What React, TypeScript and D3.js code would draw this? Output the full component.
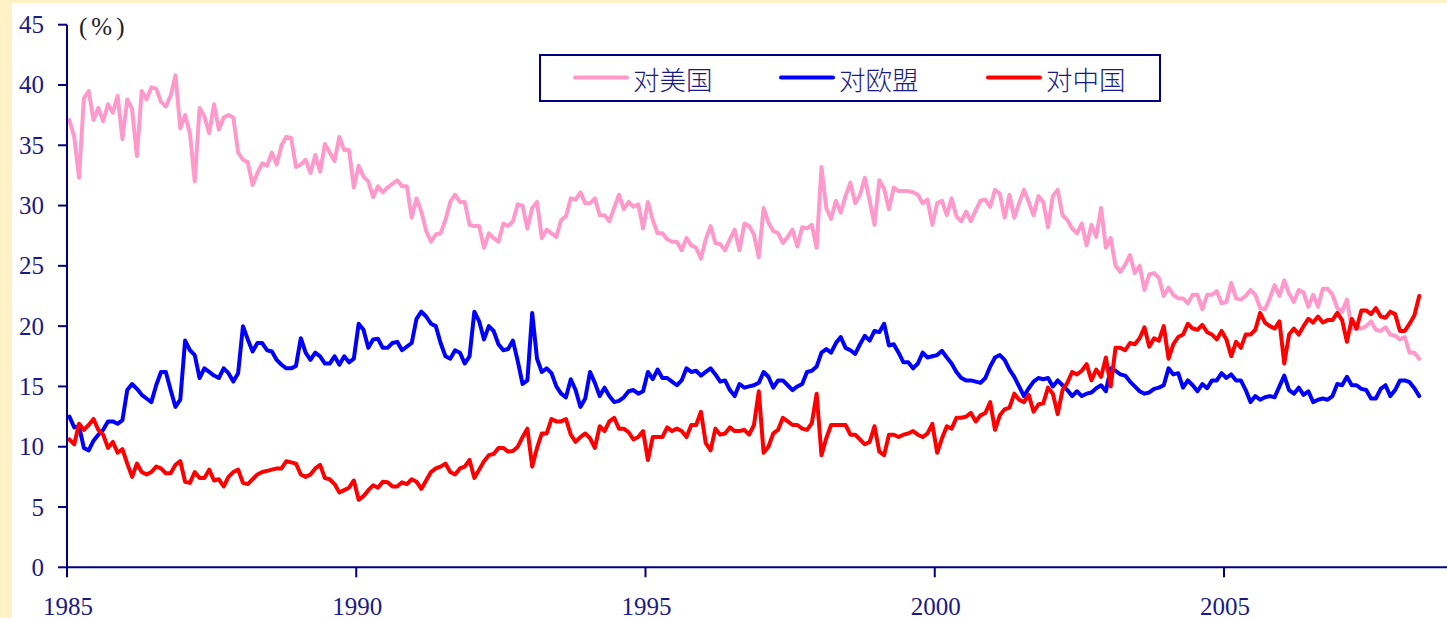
import React from "react";
import * as d3 from "d3";

// Monthly shares (%) starting Jan 1985
const seriesNames = ["对美国", "对欧盟", "对中国"];
const seriesColors = ["#FF99CC", "#0000FF", "#FF0000"];
const tickYears = [1985, 1990, 1995, 2000, 2005];
const yTicks = [0, 5, 10, 15, 20, 25, 30, 35, 40, 45];

const usShare = [
  37.1, 35.7, 32.3, 38.9, 39.5, 37.1, 38.1, 37.0, 38.4, 37.7,
  39.1, 35.5, 38.8, 38.0, 34.1, 39.5, 38.8, 39.8, 39.7, 38.6,
  38.2, 39.1, 40.8, 36.4, 37.5, 36.0, 32.0, 38.1, 37.4, 36.0,
  38.4, 36.3, 37.3, 37.5, 37.3, 34.4, 33.8, 33.6, 31.7, 32.7,
  33.5, 33.3, 34.4, 33.4, 35.0, 35.7, 35.6, 33.2, 33.4, 33.8,
  32.7, 34.2, 32.8, 35.1, 34.4, 33.7, 35.7, 34.6, 34.6, 31.5,
  33.3, 32.4, 32.0, 30.7, 31.6, 31.1, 31.5, 31.8, 32.1, 31.6,
  31.6, 29.0, 30.6, 29.5, 27.9, 27.0, 27.6, 27.7, 28.8, 30.3,
  30.9, 30.3, 30.3, 28.4, 28.3, 28.3, 26.5, 27.7, 27.3, 27.0,
  28.5, 28.3, 28.7, 30.1, 30.0, 28.1, 29.8, 30.3, 27.3, 28.0,
  27.7, 27.4, 28.8, 29.1, 30.6, 30.5, 31.1, 30.2, 30.2, 30.6,
  29.2, 29.2, 28.7, 29.8, 30.9, 29.7, 30.3, 29.9, 30.1, 28.1,
  30.3, 28.8, 27.7, 27.7, 27.2, 27.0, 27.0, 26.3, 27.3, 26.7,
  26.5, 25.6, 27.2, 28.3, 26.9, 26.8, 26.3, 27.2, 28.0, 26.3,
  28.5, 28.3, 27.6, 25.7, 29.8, 28.6, 27.9, 27.7, 26.9, 27.4,
  28.0, 26.6, 28.2, 28.1, 28.4, 26.5, 33.2, 29.8, 28.9, 30.4,
  29.4, 30.8, 31.9, 30.2, 30.9, 32.3, 30.4, 28.4, 32.1, 31.4,
  29.7, 31.5, 31.2, 31.2, 31.2, 31.1, 30.9, 30.2, 30.5, 28.4,
  30.2, 30.4, 29.2, 30.6, 29.1, 28.7, 29.5, 28.7, 29.6, 30.4,
  30.5, 29.9, 31.3, 31.0, 29.0, 30.9, 29.0, 30.2, 31.3, 30.3,
  29.2, 30.8, 30.3, 28.2, 30.8, 31.3, 29.2, 28.8, 28.1, 27.7,
  28.5, 26.7, 28.4, 27.4, 29.8, 26.5, 27.3, 25.0, 24.5, 25.1,
  25.9, 24.4, 25.0, 23.0, 24.3, 24.4, 24.0, 22.5, 23.2, 22.6,
  22.3, 22.3, 21.9, 22.6, 22.6, 21.4, 22.6, 22.6, 22.9, 21.9,
  22.0, 23.6, 22.3, 22.2, 22.5, 23.0, 22.6, 21.5, 21.4, 22.3,
  23.4, 22.5, 23.8, 22.7, 22.0, 23.0, 22.8, 21.6, 22.6, 21.6,
  23.1, 23.1, 22.6, 21.5, 21.2, 22.2, 19.8, 19.8, 19.8, 20.0,
  20.4, 19.7, 19.6, 19.9, 19.3, 19.2, 18.9, 19.1, 17.8, 17.8, 17.3,
];

const euShare = [
  12.5, 11.6, 11.7, 9.9, 9.7, 10.5, 11.0, 11.4, 12.1, 12.1,
  11.9, 12.2, 14.7, 15.2, 14.8, 14.3, 14.0, 13.7, 15.1, 16.2,
  16.2, 14.7, 13.3, 13.9, 18.8, 18.0, 17.6, 15.7, 16.5, 16.2,
  15.9, 15.7, 16.5, 16.1, 15.4, 16.1, 20.0, 18.9, 17.9, 18.6,
  18.6, 18.0, 17.9, 17.2, 16.8, 16.5, 16.5, 16.7, 19.0, 17.8,
  17.2, 17.8, 17.5, 16.9, 16.9, 17.5, 16.8, 17.5, 17.0, 17.3,
  20.2, 19.7, 18.2, 18.9, 18.95, 18.2, 18.2, 18.6, 18.7, 18.0,
  18.3, 18.6, 20.6, 21.2, 20.8, 20.2, 20.0, 18.6, 17.5, 17.3,
  18.0, 17.8, 16.9, 17.5, 21.2, 20.4, 18.9, 20.0, 19.6, 18.5,
  18.0, 18.1, 18.8, 17.1, 15.2, 15.5, 21.1, 17.3, 16.2, 16.5,
  16.1, 15.0, 14.4, 14.1, 15.6, 14.7, 13.3, 14.0, 16.2, 15.3,
  14.2, 14.9, 14.2, 13.7, 13.8, 14.1, 14.6, 14.7, 14.4, 14.6,
  16.2, 15.6, 16.4, 15.7, 15.7, 15.4, 15.1, 15.5, 16.5, 16.2,
  16.3, 15.9, 16.2, 16.5, 16.0, 15.4, 15.5, 14.7, 14.2, 15.2,
  14.9, 15.0, 15.1, 15.3, 16.2, 15.8, 14.9, 15.5, 15.5, 15.1,
  14.7, 15.0, 15.2, 16.2, 16.3, 16.65, 17.8, 18.1, 17.8, 18.6,
  19.1, 18.2, 18.0, 17.7, 18.5, 19.2, 18.8, 19.6, 19.5, 20.2,
  18.4, 18.5, 17.8, 17.0, 17.0, 16.5, 16.9, 17.8, 17.4, 17.5,
  17.6, 17.95, 17.4, 16.9, 16.2, 15.7, 15.5, 15.5, 15.4, 15.3,
  15.7, 16.65, 17.4, 17.6, 17.2, 16.4, 15.8, 15.0, 14.2, 14.85,
  15.4, 15.7, 15.6, 15.7, 15.0, 15.5, 15.1, 14.7, 14.2, 14.6,
  14.2, 14.4, 14.5, 14.85, 15.1, 14.6, 16.5, 16.3, 16.0, 15.9,
  15.4, 15.0, 14.6, 14.4, 14.5, 14.8, 14.9, 15.1, 16.5, 16.0,
  16.1, 14.9, 15.5, 15.1, 14.6, 15.2, 14.85, 15.5, 15.5, 16.1,
  15.7, 16.0, 15.5, 15.5, 14.7, 13.7, 14.2, 13.9, 14.1, 14.2,
  14.1, 15.0, 15.9, 14.7, 14.4, 14.9, 14.3, 14.6, 13.7, 13.9,
  14.0, 13.9, 14.2, 15.2, 15.1, 15.8, 15.1, 15.1, 14.8, 14.7,
  14.0, 14.0, 14.8, 15.1, 14.2, 14.7, 15.5, 15.5, 15.35, 14.85, 14.2,
];

const cnShare = [
  10.6, 10.2, 11.9, 11.4, 11.8, 12.3, 11.4, 11.0, 9.9, 10.4,
  9.5, 9.8, 8.6, 7.5, 8.6, 7.9, 7.7, 7.9, 8.35, 8.2,
  7.8, 7.8, 8.5, 8.8, 7.1, 7.0, 7.9, 7.4, 7.4, 8.1,
  7.2, 7.3, 6.7, 7.5, 7.9, 8.1, 7.0, 6.9, 7.3, 7.7,
  7.9, 8.0, 8.1, 8.2, 8.2, 8.8, 8.7, 8.6, 7.7, 7.5,
  7.7, 8.2, 8.5, 7.4, 7.3, 6.9, 6.2, 6.4, 6.6, 7.2,
  5.6, 5.9, 6.4, 6.8, 6.6, 7.1, 7.05, 6.7, 6.7, 7.05,
  6.9, 7.3, 7.1, 6.5, 7.2, 7.9, 8.2, 8.35, 8.6, 7.9,
  7.7, 8.2, 8.35, 8.9, 7.4, 8.1, 8.8, 9.3, 9.4, 9.9,
  9.9, 9.6, 9.65, 10.0, 10.8, 11.5, 8.35, 9.9, 11.1, 11.1,
  12.3, 12.1, 12.1, 12.3, 11.0, 10.4, 10.8, 11.1, 10.7, 9.9,
  11.7, 11.3, 12.1, 12.4, 11.5, 11.5, 11.2, 10.6, 10.8, 11.3,
  8.9, 10.8, 10.8, 10.8, 11.6, 11.3, 11.5, 11.3, 10.8, 11.8,
  11.8, 12.9, 10.3, 9.7, 11.5, 11.0, 11.1, 11.6, 11.3, 11.3,
  11.4, 11.0, 11.8, 14.6, 9.5, 10.0, 11.1, 11.4, 12.4, 12.1,
  11.8, 11.8, 11.5, 11.4, 11.95, 14.4, 9.3, 10.7, 11.8, 11.8,
  11.8, 11.8, 11.0, 11.0, 10.6, 10.2, 10.4, 11.7, 9.6, 9.3,
  11.0, 11.0, 10.8, 11.0, 11.1, 11.3, 11.0, 10.8, 11.1, 11.9,
  9.5, 10.7, 11.7, 11.5, 12.4, 12.4, 12.5, 12.8, 12.1, 12.6,
  12.8, 13.7, 11.4, 12.6, 13.1, 13.25, 14.4, 13.9, 13.7, 14.3,
  12.9, 13.5, 13.6, 14.9, 14.4, 12.7, 14.7, 15.3, 16.2, 16.0,
  16.3, 16.85, 15.5, 16.4, 15.8, 17.4, 15.0, 18.2, 18.2, 18.0,
  18.6, 18.5, 19.0, 19.9, 18.3, 19.0, 18.8, 20.0, 17.3, 18.5,
  19.1, 19.3, 20.2, 19.8, 19.7, 20.1, 19.5, 19.3, 18.9, 19.6,
  18.9, 17.5, 18.7, 18.2, 19.3, 19.3, 19.7, 21.1, 20.3, 20.0,
  19.8, 20.4, 16.9, 19.3, 19.8, 19.3, 20.0, 20.6, 20.3, 20.8,
  20.3, 20.5, 20.5, 21.1, 20.5, 18.7, 20.6, 19.8, 21.3, 21.3,
  21.0, 21.5, 20.8, 20.7, 21.2, 21.0, 19.6, 19.6, 20.2, 20.9, 22.5,
];

const allSeries = [usShare, euShare, cnShare];

const W = 1447;
const H = 618;
const NAVY = "#000080";
const TEXT = "#1a1a86";
const SERIF = "'Liberation Serif', 'DejaVu Serif', serif";
const CJK = "'Noto Sans CJK SC', 'Noto Sans', sans-serif";

export default function App() {
  const x = d3.scaleLinear().domain([0, 240]).range([67, 1224]);
  const y = d3.scaleLinear().domain([0, 45]).range([567.3, 24.7]);
  const line = d3
    .line<number>()
    .x((_, i) => x(i + 0.5))
    .y((d) => y(d));

  const legendX = [575, 781, 988];

  return (
    <svg
      width={W}
      height={H}
      style={{ position: "absolute", left: 0, top: 0, display: "block" }}
    >
      <rect x={0} y={0} width={W} height={H} fill="#FFF2C6" />
      <rect x={12} y={3} width={W - 12} height={H - 3} fill="#FFFFFF" />

      {/* series */}
      {allSeries.map((s, k) => (
        <path
          key={k}
          d={line(s) || ""}
          fill="none"
          stroke={seriesColors[k]}
          strokeWidth={4}
          strokeLinejoin="round"
          strokeLinecap="round"
        />
      ))}

      {/* y axis */}
      <line x1={67} x2={67} y1={y(45)} y2={y(0)} stroke={NAVY} strokeWidth={2} />
      {yTicks.map((t) => (
        <g key={t}>
          <line x1={58} x2={67} y1={y(t)} y2={y(t)} stroke={NAVY} strokeWidth={2} />
          <text
            x={44}
            y={y(t)}
            textAnchor="end"
            dominantBaseline="central"
            fontFamily={SERIF}
            fontSize={25}
            fill={TEXT}
          >
            {t}
          </text>
        </g>
      ))}

      {/* x axis */}
      <line x1={66} x2={W} y1={y(0)} y2={y(0)} stroke={NAVY} strokeWidth={2} />
      {tickYears.map((yr) => {
        const xx = x((yr - 1985) * 12);
        return (
          <g key={yr}>
            <line x1={xx} x2={xx} y1={y(0)} y2={y(0) + 10} stroke={NAVY} strokeWidth={2} />
            <text
              x={xx + 1}
              y={606}
              textAnchor="middle"
              dominantBaseline="central"
              fontFamily={SERIF}
              fontSize={25}
              fill={TEXT}
            >
              {yr}
            </text>
          </g>
        );
      })}

      {/* unit */}
      <text
        x={79}
        y={26}
        dominantBaseline="central"
        fontFamily={SERIF}
        fontSize={25}
        fill="#222222"
        letterSpacing={4}
      >
        (%)
      </text>

      {/* legend */}
      <rect x={540} y={55} width={620} height={46} fill="#FFFFFF" stroke={NAVY} strokeWidth={2} />
      {seriesNames.map((n, k) => (
        <g key={n}>
          <line
            x1={legendX[k]}
            x2={legendX[k] + 52}
            y1={77.5}
            y2={77.5}
            stroke={seriesColors[k]}
            strokeWidth={4}
            strokeLinecap="round"
          />
          <text
            x={legendX[k] + 58}
            y={78}
            dominantBaseline="central"
            fontFamily={CJK}
            fontSize={26.5}
            fontWeight={300}
            fill={TEXT}
          >
            {n}
          </text>
        </g>
      ))}
    </svg>
  );
}
